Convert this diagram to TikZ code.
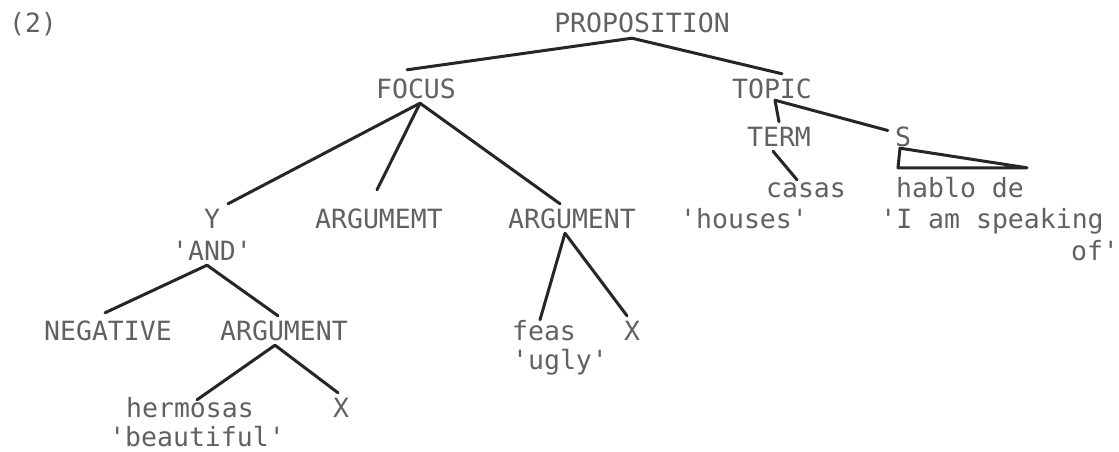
\documentclass[tikz,border=0pt]{standalone}
\usepackage{fontspec}
\usepackage{tikz}
\newfontfamily\typewr{DejaVu Sans Mono}
\newcommand{\q}{\textquotesingle}

\begin{document}
\begin{tikzpicture}[x=1pt,y=-1pt,
  word/.style={font=\typewr\fontsize{26.5}{31}\selectfont, text=black!62,
    anchor=base, inner xsep=3pt, inner ysep=5pt, text height=19pt, text depth=0pt},
  branch/.style={line width=3pt, draw=black!85, line cap=round, line join=round}]
\useasboundingbox (0,0) rectangle (1119,452);
\node[word] (num) at (33,33) {(2)};
\node[word] (prop) at (642,33) {PROPOSITION};
\node[word] (focus) at (416,98) {FOCUS};
\node[word] (topic) at (772,98) {TOPIC};
\node[word] (term) at (779,146) {TERM};
\node[word] (s) at (903,146) {S};
\node[word] (casas) at (806,197) {casas};
\node[word] (hablo) at (960,197) {hablo de};
\node[word] (houses) at (744,228) {\q houses\q};
\node[word] (speak) at (992,228) {\q I am speaking};
\node[word] (of) at (1095,260) {of\q};
\node[word] (y) at (212,228) {Y};
\node[word] (argm) at (379,228) {ARGUMEMT};
\node[word] (arga) at (572,228) {ARGUMENT};
\node[word] (and) at (212,260) {\q AND\q};
\node[word] (neg) at (108,340) {NEGATIVE};
\node[word] (argb) at (284,340) {ARGUMENT};
\node[word] (feas) at (544,340) {feas};
\node[word] (xa) at (632,340) {X};
\node[word] (ugly) at (560,369) {\q ugly\q};
\node[word] (herm) at (190,417) {hermosas};
\node[word] (xb) at (341,417) {X};
\node[word, inner ysep=2pt] (beau) at (197,446) {\q beautiful\q};
% upper part
\draw[branch] ([xshift=-10pt]prop.south) -- ([xshift=-9pt,yshift=4pt]focus.north);
\draw[branch] ([xshift=-10pt]prop.south) -- ([xshift=10pt]topic.north);
\draw[branch] ([xshift=4pt]focus.south) -- ([xshift=16pt]y.north);
\draw[branch] ([xshift=4pt]focus.south) -- ([xshift=-2pt,yshift=14pt]argm.north);
\draw[branch] ([xshift=4pt]focus.south) -- ([xshift=-12pt]arga.north);
\draw[branch] ([xshift=3pt,yshift=3pt]topic.south) -- (term.north);
\draw[branch] ([xshift=3pt,yshift=3pt]topic.south) -- ([xshift=-4pt,yshift=6pt]s.west);
\draw[branch] ([xshift=-6pt]term.south) -- ([xshift=-9pt,yshift=-7pt]casas.north);
\draw[branch] ([xshift=-3pt,yshift=3pt]s.south) -- ([xshift=5pt,yshift=5pt]hablo.north west)
  -- ([yshift=5pt]hablo.north east) -- cycle;
% lower part
\draw[branch] ([xshift=-5pt]and.south) -- ([xshift=-3pt,yshift=3pt]neg.north);
\draw[branch] ([xshift=-5pt]and.south) -- ([xshift=-6pt]argb.north);
\draw[branch] ([xshift=-7pt]arga.south) -- ([xshift=-4pt,yshift=-4pt]feas.north);
\draw[branch] ([xshift=-7pt]arga.south) -- ([xshift=-5pt]xa.north);
\draw[branch] ([xshift=-9pt]argb.south) -- ([xshift=7pt,yshift=-7pt]herm.north);
\draw[branch] ([xshift=-9pt]argb.south) -- ([xshift=-3pt]xb.north);
\end{tikzpicture}
\end{document}
